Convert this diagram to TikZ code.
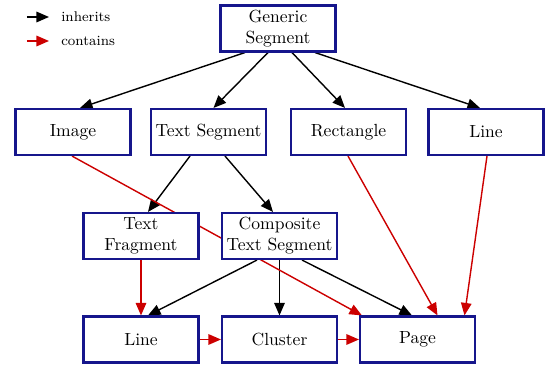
\documentclass[tikz,border=0pt]{standalone}
\usepackage{tikz}
\usetikzlibrary{arrows.meta,positioning,backgrounds}
\definecolor{boxblue}{RGB}{22,22,140}
\definecolor{contred}{RGB}{204,0,0}

\begin{document}
\begin{tikzpicture}[
    font=\normalsize,
    >={Triangle[length=2.5mm,width=2.1mm]},
    seg/.style={draw=boxblue, line width=1.2pt, fill=white, align=center, minimum width=2.3cm, minimum height=0.92cm, inner sep=1pt},
    inherit/.style={->, line width=0.8pt, black},
    contain/.style={->, line width=0.8pt, contred},
    legend/.style={font=\footnotesize, anchor=west, inner sep=0pt}
]
\useasboundingbox (0,0) rectangle (10.9,-7.34);

% ===================== LEGEND =====================
\coordinate (inhfrom) at (0.54,-0.34);
\coordinate (inhto) at (0.98,-0.34);
\node[legend] (inhlbl) at (1.22,-0.34) {inherits};
\coordinate (confrom) at (0.54,-0.82);
\coordinate (conto) at (0.98,-0.82);
\node[legend] (conlbl) at (1.22,-0.82) {contains};
\draw[inherit] (inhfrom) -- (inhto);
\draw[contain] (confrom) -- (conto);

% ===================== TOP =====================
\node[seg] (generic) at (5.56,-0.57) {Generic\\Segment};

% ===================== SECOND ROW =====================
\node[seg] (image) at (1.46,-2.64) {Image};
\node[seg] (textseg) at (4.17,-2.64) {Text Segment};
\node[seg] (rect) at (6.97,-2.64) {Rectangle};
\node[seg] (linetop) at (9.72,-2.64) {Line};

% ===================== THIRD ROW =====================
\node[seg] (textfrag) at (2.82,-4.72) {Text\\Fragment};
\node[seg] (composite) at (5.59,-4.72) {Composite\\Text Segment};

% ===================== BOTTOM ROW =====================
\node[seg] (linebot) at (2.82,-6.79) {Line};
\node[seg] (cluster) at (5.59,-6.79) {Cluster};
\node[seg] (page) at (8.35,-6.79) {Page};

% ===================== ARROWS =====================
\begin{pgfonlayer}{background}
\draw[inherit] ([xshift=-0.66cm]generic.south) -- ([xshift=0.14cm]image.north);
\draw[inherit] ([xshift=-0.2cm]generic.south) -- ([xshift=0.1cm]textseg.north);
\draw[inherit] ([xshift=0.28cm]generic.south) -- ([xshift=-0.07cm]rect.north);
\draw[inherit] ([xshift=0.74cm]generic.south) -- ([xshift=-0.12cm]linetop.north);

\draw[inherit] ([xshift=-0.37cm]textseg.south) -- ([xshift=0.14cm]textfrag.north);
\draw[inherit] ([xshift=0.33cm]textseg.south) -- ([xshift=-0.13cm]composite.north);

\draw[inherit] ([xshift=-0.45cm]composite.south) -- ([xshift=0.14cm]linebot.north);
\draw[inherit] (composite) -- (cluster);
\draw[inherit] ([xshift=0.45cm]composite.south) -- ([xshift=-0.11cm]page.north);

\draw[contain] ([xshift=-0.02cm]image.south) -- ([xshift=0.06cm]page.north west);
\draw[contain] ([xshift=-0.01cm]rect.south) -- ([xshift=0.4cm]page.north);
\draw[contain] ([xshift=0.02cm]linetop.south) -- ([xshift=0.94cm]page.north);
\draw[contain] (textfrag) -- (linebot);
\draw[contain] (linebot) -- (cluster);
\draw[contain] (cluster) -- (page);
\end{pgfonlayer}

\end{tikzpicture}
\end{document}
